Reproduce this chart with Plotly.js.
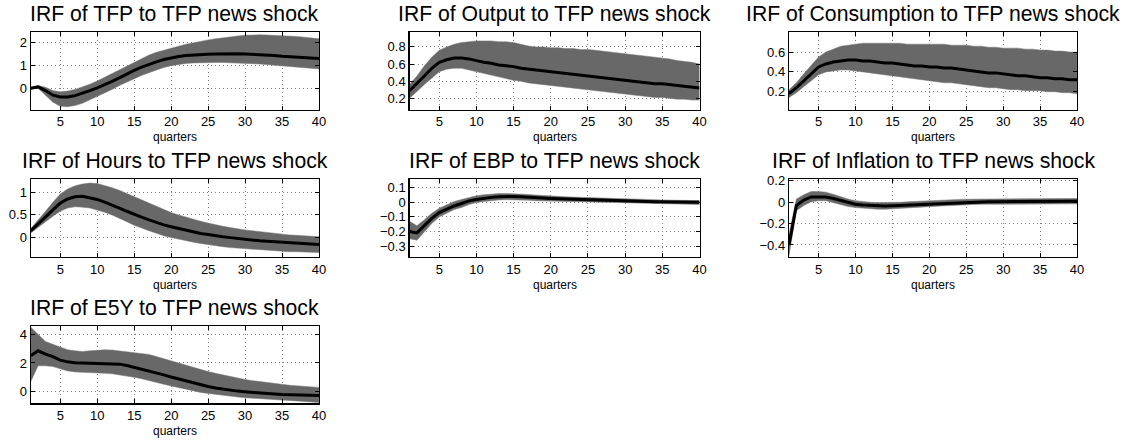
<!DOCTYPE html>
<html>
<head>
<meta charset="utf-8">
<script src="https://cdn.plot.ly/plotly-3.0.1.min.js"></script>
<style>html,body{margin:0;padding:0;background:#fff;}#chart{width:1129px;height:441px;}</style>
</head>
<body>
<div id="chart"></div>
<script>
// ---------------- data ----------------
const quarters = Array.from({length: 40}, (_, i) => i + 1);
const xTickVals = [5, 10, 15, 20, 25, 30, 35, 40];

const titles = [
  "IRF of TFP to TFP news shock",
  "IRF of Output to TFP news shock",
  "IRF of Consumption to TFP news shock",
  "IRF of Hours to TFP news shock",
  "IRF of EBP to TFP news shock",
  "IRF of Inflation to TFP news shock",
  "IRF of E5Y to TFP news shock"
];

const tfpMed = [0.00,0.06,-0.10,-0.30,-0.38,-0.38,-0.32,-0.22,-0.10,0.02,0.15,0.30,0.45,0.62,0.78,0.92,1.05,1.15,1.25,1.32,1.38,1.42,1.45,1.47,1.48,1.49,1.50,1.50,1.50,1.49,1.48,1.46,1.44,1.42,1.39,1.37,1.35,1.33,1.31,1.29];
const tfpUp  = [0.02,0.12,0.05,-0.10,-0.15,-0.12,-0.05,0.05,0.18,0.32,0.48,0.64,0.82,0.98,1.14,1.30,1.44,1.56,1.66,1.75,1.83,1.91,1.98,2.04,2.10,2.15,2.20,2.24,2.27,2.30,2.32,2.32,2.31,2.30,2.29,2.27,2.25,2.22,2.19,2.15];
const tfpLo  = [-0.02,0.00,-0.30,-0.60,-0.78,-0.80,-0.75,-0.65,-0.50,-0.35,-0.20,-0.05,0.12,0.28,0.42,0.56,0.68,0.80,0.90,0.98,1.04,1.08,1.10,1.12,1.12,1.12,1.12,1.11,1.10,1.09,1.07,1.05,1.03,1.01,0.99,0.96,0.93,0.90,0.87,0.84];

const outMed = [0.29,0.37,0.46,0.55,0.62,0.65,0.67,0.67,0.66,0.64,0.62,0.61,0.59,0.58,0.57,0.55,0.54,0.53,0.52,0.51,0.50,0.49,0.48,0.47,0.46,0.45,0.44,0.43,0.42,0.41,0.40,0.39,0.38,0.37,0.37,0.36,0.35,0.34,0.33,0.32];
const outUp  = [0.36,0.46,0.58,0.68,0.76,0.80,0.83,0.85,0.86,0.87,0.87,0.87,0.86,0.86,0.85,0.83,0.81,0.80,0.80,0.79,0.79,0.78,0.78,0.77,0.77,0.76,0.75,0.74,0.73,0.72,0.71,0.70,0.69,0.68,0.67,0.66,0.64,0.63,0.62,0.60];
const outLo  = [0.20,0.28,0.36,0.44,0.51,0.54,0.55,0.55,0.53,0.51,0.49,0.47,0.45,0.43,0.41,0.40,0.38,0.37,0.36,0.35,0.34,0.33,0.32,0.31,0.30,0.29,0.28,0.27,0.26,0.25,0.24,0.23,0.22,0.21,0.21,0.20,0.19,0.19,0.18,0.18];

const conMed = [0.18,0.24,0.31,0.38,0.45,0.48,0.50,0.51,0.52,0.52,0.51,0.51,0.50,0.49,0.49,0.48,0.47,0.46,0.46,0.45,0.45,0.44,0.44,0.43,0.42,0.41,0.40,0.39,0.39,0.38,0.37,0.36,0.36,0.35,0.34,0.34,0.33,0.33,0.32,0.32];
const conUp  = [0.22,0.29,0.38,0.47,0.55,0.60,0.63,0.66,0.67,0.68,0.69,0.69,0.69,0.69,0.69,0.69,0.68,0.68,0.68,0.68,0.68,0.68,0.67,0.67,0.67,0.66,0.66,0.65,0.65,0.64,0.64,0.64,0.63,0.63,0.62,0.62,0.61,0.61,0.60,0.60];
const conLo  = [0.14,0.19,0.25,0.31,0.37,0.40,0.41,0.42,0.42,0.41,0.40,0.39,0.38,0.37,0.36,0.35,0.34,0.33,0.32,0.31,0.30,0.29,0.29,0.28,0.27,0.26,0.25,0.24,0.24,0.23,0.22,0.22,0.21,0.21,0.21,0.20,0.20,0.19,0.19,0.18];

const hrsMed = [0.15,0.30,0.46,0.62,0.76,0.85,0.90,0.91,0.88,0.84,0.78,0.72,0.65,0.58,0.51,0.45,0.39,0.33,0.28,0.24,0.20,0.16,0.12,0.09,0.07,0.04,0.02,0.00,-0.02,-0.04,-0.05,-0.07,-0.08,-0.09,-0.10,-0.11,-0.12,-0.13,-0.14,-0.15];
const hrsUp  = [0.20,0.38,0.58,0.78,0.96,1.07,1.14,1.18,1.20,1.19,1.15,1.10,1.04,0.97,0.89,0.83,0.76,0.68,0.61,0.55,0.50,0.45,0.40,0.36,0.32,0.28,0.25,0.22,0.19,0.17,0.15,0.13,0.11,0.09,0.08,0.06,0.05,0.04,0.03,0.02];
const hrsLo  = [0.10,0.22,0.35,0.47,0.58,0.65,0.68,0.67,0.65,0.61,0.56,0.50,0.43,0.35,0.27,0.21,0.15,0.09,0.04,0.00,-0.04,-0.07,-0.10,-0.13,-0.16,-0.18,-0.20,-0.22,-0.24,-0.25,-0.26,-0.27,-0.28,-0.29,-0.30,-0.31,-0.31,-0.32,-0.32,-0.33];

const ebpMed = [-0.20,-0.21,-0.16,-0.11,-0.07,-0.045,-0.025,-0.008,0.010,0.020,0.028,0.034,0.038,0.040,0.040,0.038,0.034,0.030,0.028,0.026,0.024,0.022,0.020,0.018,0.016,0.014,0.012,0.010,0.009,0.008,0.007,0.006,0.005,0.004,0.003,0.002,0.002,0.001,0.001,0.000];
const ebpUp  = [-0.13,-0.16,-0.12,-0.075,-0.04,-0.015,0.005,0.02,0.035,0.045,0.052,0.057,0.060,0.061,0.060,0.058,0.054,0.050,0.046,0.043,0.040,0.038,0.036,0.034,0.032,0.030,0.028,0.026,0.024,0.022,0.021,0.020,0.018,0.017,0.016,0.015,0.014,0.013,0.012,0.012];
const ebpLo  = [-0.25,-0.26,-0.20,-0.145,-0.10,-0.075,-0.05,-0.035,-0.015,-0.002,0.006,0.012,0.016,0.018,0.018,0.017,0.014,0.011,0.009,0.007,0.006,0.004,0.003,0.002,0.001,0.000,-0.002,-0.003,-0.004,-0.005,-0.006,-0.007,-0.008,-0.009,-0.010,-0.011,-0.012,-0.013,-0.014,-0.015];

const infMed = [-0.40,-0.03,0.02,0.05,0.05,0.05,0.035,0.015,-0.005,-0.018,-0.026,-0.031,-0.034,-0.035,-0.033,-0.030,-0.026,-0.022,-0.018,-0.014,-0.010,-0.007,-0.004,-0.002,0.000,0.002,0.004,0.005,0.006,0.007,0.008,0.009,0.010,0.010,0.011,0.011,0.011,0.011,0.010,0.010];
const infUp  = [-0.30,0.03,0.07,0.10,0.10,0.095,0.075,0.05,0.03,0.015,0.005,0.000,-0.003,-0.004,-0.003,0.000,0.004,0.008,0.012,0.016,0.019,0.022,0.025,0.027,0.029,0.030,0.031,0.032,0.033,0.034,0.034,0.035,0.035,0.035,0.035,0.035,0.035,0.035,0.035,0.035];
const infLo  = [-0.50,-0.08,-0.03,0.005,0.015,0.015,0.000,-0.02,-0.04,-0.05,-0.057,-0.062,-0.065,-0.066,-0.064,-0.060,-0.056,-0.051,-0.046,-0.041,-0.037,-0.033,-0.029,-0.026,-0.023,-0.021,-0.019,-0.017,-0.016,-0.015,-0.014,-0.014,-0.013,-0.013,-0.013,-0.013,-0.014,-0.014,-0.015,-0.015];

const e5yMed = [2.50,2.85,2.62,2.45,2.20,2.08,2.02,2.00,2.00,2.00,1.98,1.97,1.92,1.82,1.70,1.58,1.45,1.32,1.17,1.02,0.88,0.74,0.61,0.48,0.36,0.26,0.17,0.10,0.04,-0.01,-0.06,-0.10,-0.14,-0.17,-0.20,-0.22,-0.24,-0.25,-0.26,-0.27];
const e5yUp  = [4.50,4.00,3.50,3.30,3.10,2.92,2.85,2.80,2.85,2.90,2.92,2.90,2.85,2.80,2.75,2.68,2.60,2.45,2.30,2.15,1.98,1.82,1.67,1.53,1.40,1.28,1.16,1.05,0.95,0.85,0.77,0.70,0.63,0.56,0.50,0.45,0.41,0.37,0.33,0.30];
const e5yLo  = [0.70,1.80,1.80,1.75,1.60,1.45,1.38,1.35,1.32,1.30,1.28,1.25,1.18,1.10,1.00,0.90,0.80,0.65,0.52,0.40,0.28,0.16,0.05,-0.05,-0.12,-0.20,-0.26,-0.32,-0.37,-0.42,-0.47,-0.51,-0.55,-0.58,-0.61,-0.64,-0.67,-0.70,-0.72,-0.75];

const yTickVals = [
  [0, 1, 2],
  [0.2, 0.4, 0.6, 0.8],
  [0.2, 0.4, 0.6],
  [0, 0.5, 1],
  [-0.3, -0.2, -0.1, 0, 0.1],
  [-0.4, -0.2, 0, 0.2],
  [0, 2, 4]
];
const xLabel = "quarters";

// ---------------- layout constants ----------------
const W = 1129, H = 441;
const colPx = [[30.7, 319], [409.5, 699.5], [789, 1077]];
const rowPx = [[32.3, 109.5], [179, 256.7], [325.7, 403.3]];
const yRanges = [
  [-0.92, 2.43],
  [0.07, 0.97],
  [0.02, 0.8],
  [-0.42, 1.29],
  [-0.373, 0.16],
  [-0.51, 0.218],
  [-0.81, 4.6]
];

const series = [
  [tfpMed, tfpUp, tfpLo],
  [outMed, outUp, outLo],
  [conMed, conUp, conLo],
  [hrsMed, hrsUp, hrsLo],
  [ebpMed, ebpUp, ebpLo],
  [infMed, infUp, infLo],
  [e5yMed, e5yUp, e5yLo]
];

const FONT = "Liberation Sans, Arial, Helvetica, sans-serif";
const traces = [];
const layout = {
  width: W, height: H,
  margin: {l: 0, r: 0, t: 0, b: 0},
  paper_bgcolor: "#ffffff",
  plot_bgcolor: "#ffffff",
  showlegend: false,
  font: {family: FONT, size: 13, color: "#000"},
  annotations: []
};

series.forEach((s, i) => {
  const [med, up, lo] = s;
  const r = Math.floor(i / 3), c = i % 3;
  const n = i + 1;
  const xa = n === 1 ? "x" : "x" + n;
  const ya = n === 1 ? "y" : "y" + n;
  traces.push({
    x: quarters.concat(quarters.slice().reverse()),
    y: up.concat(lo.slice().reverse()),
    xaxis: xa, yaxis: ya,
    type: "scatter", mode: "lines",
    fill: "toself", fillcolor: "#686868",
    line: {width: 0.5, color: "#7a7a7a"},
    hoverinfo: "skip"
  });
  traces.push({
    x: quarters, y: med,
    xaxis: xa, yaxis: ya,
    type: "scatter", mode: "lines",
    line: {width: 3, color: "#000000"}
  });
  const xd = [colPx[c][0] / W, colPx[c][1] / W];
  const yd = [1 - rowPx[r][1] / H, 1 - rowPx[r][0] / H];
  const common = {
    showline: true, linecolor: "#000", linewidth: 1.2, mirror: "ticks",
    ticks: "inside", ticklen: 4, tickcolor: "#000", tickwidth: 1,
    showgrid: true, gridcolor: "#808080", griddash: "1px,3px", gridwidth: 1,
    zeroline: false, fixedrange: true,
    tickfont: {family: FONT, size: 13, color: "#000"}
  };
  layout["xaxis" + (n === 1 ? "" : n)] = Object.assign({}, common, {
    domain: xd, anchor: ya, range: [1, 40],
    tickmode: "array", tickvals: xTickVals
  });
  layout["yaxis" + (n === 1 ? "" : n)] = Object.assign({}, common, {
    domain: yd, anchor: xa, range: yRanges[i],
    tickmode: "array", tickvals: yTickVals[i]
  });
  const cx = (xd[0] + xd[1]) / 2;
  layout.annotations.push({
    text: titles[i], xref: "paper", yref: "paper",
    x: cx, y: 1 - (rowPx[r][0] - 18.5) / H,
    xanchor: "center", yanchor: "middle", showarrow: false,
    font: {family: FONT, size: 21.2, color: "#000"}
  });
  layout.annotations.push({
    text: xLabel, xref: "paper", yref: "paper",
    x: cx, y: 1 - (rowPx[r][1] + 28) / H,
    xanchor: "center", yanchor: "middle", showarrow: false,
    font: {family: FONT, size: 12, color: "#000"}
  });
});

Plotly.newPlot("chart", traces, layout, {staticPlot: true, displayModeBar: false});
</script>
</body>
</html>
